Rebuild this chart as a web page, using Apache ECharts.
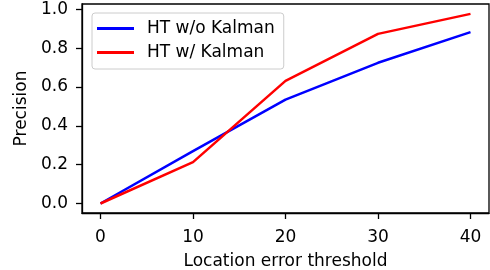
<!DOCTYPE html>
<html>
<head>
<meta charset="utf-8">
<script src="https://cdn.jsdelivr.net/npm/echarts@6/dist/echarts.min.js"></script>
<style>
  html, body { margin: 0; padding: 0; background: #fff; }
  #chart { width: 490px; height: 270px; }
</style>
</head>
<body>
<div id="chart"></div>
<script>
// data
const thresholds = [0, 10, 20, 30, 40];
const woKalman = [0, 0.27, 0.535, 0.725, 0.883];
const wKalman = [0, 0.213, 0.632, 0.874, 0.977];
const xTicks = [0, 10, 20, 30, 40];
const yTicks = [0, 0.2, 0.4, 0.6, 0.8, 1.0];

const font = "DejaVu Sans";
const fs = 17;

const myChart = echarts.init(document.getElementById("chart"));

const pairs = (ys) => thresholds.map((x, i) => [x, ys[i]]);

myChart.setOption({
  animation: false,
  textStyle: { fontFamily: font, color: "#000" },
  grid: {
    left: 82,
    right: 1,
    top: 4,
    bottom: 57,
    containLabel: false,
    outerBoundsMode: "none",
    show: true,
    borderColor: "#000",
    borderWidth: 1.3,
  },
  legend: {
    orient: "vertical",
    left: 92,
    top: 13,
    padding: [7, 9, 8, 5],
    itemGap: 7,
    itemWidth: 37,
    itemHeight: 3,
    icon: "rect",
    backgroundColor: "#fff",
    borderColor: "#cccccc",
    borderWidth: 1,
    borderRadius: 3,
    textStyle: {
      fontFamily: font,
      fontSize: fs,
      color: "#000",
      padding: [0, 0, 0, 8],
    },
    data: ["HT w/o Kalman", "HT w/ Kalman"],
  },
  xAxis: {
    type: "value",
    min: -2,
    max: 42,
    name: "Location error threshold",
    nameLocation: "middle",
    nameGap: 40,
    nameTextStyle: { fontFamily: font, fontSize: fs, color: "#000" },
    axisLine: { show: true, onZero: false, lineStyle: { color: "#000", width: 1.3 } },
    axisTick: {
      show: true,
      length: 6,
      customValues: xTicks,
      lineStyle: { color: "#000", width: 1.3 },
    },
    axisLabel: {
      customValues: xTicks,
      margin: 16,
      fontFamily: font,
      fontSize: fs,
      color: "#000",
    },
    splitLine: { show: false },
  },
  yAxis: {
    type: "value",
    min: -0.049,
    max: 1.028,
    name: "Precision",
    nameLocation: "middle",
    nameGap: 52,
    nameRotate: 90,
    nameTextStyle: { fontFamily: font, fontSize: fs, color: "#000" },
    axisLine: { show: true, onZero: false, lineStyle: { color: "#000", width: 1.3 } },
    axisTick: {
      show: true,
      length: 6,
      customValues: yTicks,
      lineStyle: { color: "#000", width: 1.3 },
    },
    axisLabel: {
      customValues: yTicks,
      margin: 14,
      fontFamily: font,
      fontSize: fs,
      color: "#000",
      formatter: (v) => v.toFixed(1),
    },
    splitLine: { show: false },
  },
  series: [
    {
      name: "HT w/o Kalman",
      type: "line",
      data: pairs(woKalman),
      showSymbol: false,
      symbol: "none",
      color: "#0000ff",
      lineStyle: { color: "#0000ff", width: 2.5 },
      z: 2,
    },
    {
      name: "HT w/ Kalman",
      type: "line",
      data: pairs(wKalman),
      showSymbol: false,
      symbol: "none",
      color: "#ff0000",
      lineStyle: { color: "#ff0000", width: 2.5 },
      z: 3,
    },
  ],
});
</script>
</body>
</html>
